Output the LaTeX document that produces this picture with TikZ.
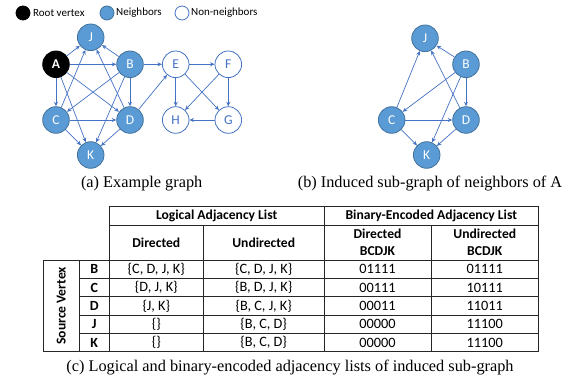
\documentclass[tikz,border=0pt]{standalone}
\usepackage{fontspec}
\setmainfont{Liberation Serif}
\newfontfamily\calib{Carlito}
\usepackage{tikz}
\usetikzlibrary{arrows.meta}
\newcommand{\rowh}{18.34}
\newcommand{\rowtop}{260}
\definecolor{nbfill}{RGB}{91,155,213}
\definecolor{nbdraw}{RGB}{65,113,156}
\definecolor{edgeblue}{RGB}{68,114,196}
\tikzset{
  vtx/.style      = {circle, minimum size=26.6pt, inner sep=0pt, line width=0.8pt, font=\calib\fontsize{13.5}{14}\selectfont},
  root/.style     = {vtx, fill=black, draw=black, text=white, font=\calib\bfseries\fontsize{13.5}{14}\selectfont},
  nbr/.style      = {vtx, fill=nbfill, draw=nbdraw, text=white},
  nonnbr/.style   = {vtx, fill=white, draw=edgeblue, text=edgeblue},
  legdot/.style   = {circle, minimum size=14pt, inner sep=0pt, line width=0.8pt},
  legtext/.style  = {anchor=west, inner sep=0pt, font=\calib\fontsize{11}{13}\selectfont},
  edge/.style     = {-{Stealth[length=4.5pt,width=4pt]}, draw=edgeblue, line width=0.7pt},
  caption/.style  = {font=\fontsize{16.3}{18}\selectfont},
  grid/.style     = {draw=black!85, line width=0.8pt},
  cell/.style     = {inner sep=0pt, font=\calib\fontsize{14.3}{16}\selectfont},
  head/.style     = {cell, align=center, font=\calib\bfseries\fontsize{13.6}{17.3}\selectfont}
}
\begin{document}
\begin{tikzpicture}[x=1pt,y=-1pt]
  \useasboundingbox (0,0) rectangle (579,379);
  % legend
  \node[legdot, fill=black, draw=black] (leg-root) at (23,13) {};
  \node[legtext] (leg-root-t) at (33,13) {Root vertex};
  \node[legdot, fill=nbfill, draw=nbdraw] (leg-nbr) at (107,13) {};
  \node[legtext] (leg-nbr-t) at (116,13) {Neighbors};
  \node[legdot, fill=white, draw=edgeblue] (leg-non) at (182,13) {};
  \node[legtext] (leg-non-t) at (191,13) {Non-neighbors};

  % (a) example graph
  \node[root]   (A) at (56,64.3) {A};
  \foreach \n/\x/\y in {J/90.7/37.3, B/130/64.3, C/56/120, D/130/120, K/90.7/155}
    \node[nbr] (\n) at (\x,\y) {\n};
  \foreach \n/\x/\y in {E/175.7/64.3, F/228.3/64.3, H/175.7/120, G/228.3/120}
    \node[nonnbr] (\n) at (\x,\y) {\n};
  \foreach \s/\t in {A/J, A/B, A/C, A/D, A/K, B/J, B/C, B/D, B/K, B/E,
                     C/J, C/D, C/K, D/J, D/K, D/E,
                     E/F, E/H, E/G, F/H, F/G, G/H}
    \draw[edge] (\s) -- (\t);
  \node[caption] (cap-a) at (141.7,183.3) {(a) Example graph};

  % (b) induced sub-graph
  \foreach \n/\x/\y in {J/425/38.3, B/466/64.3, C/391.7/120, D/466/120, K/426.7/155}
    \node[nbr] (b-\n) at (\x,\y) {\n};
  \foreach \s/\t in {B/J, B/C, B/D, B/K, C/J, C/D, C/K, D/J, D/K}
    \draw[edge] (b-\s) -- (b-\t);
  \node[caption] (cap-b) at (430,183.3) {(b) Induced sub-graph of neighbors of A};

  % (c) adjacency table: grid
  \draw[grid] (109.3,206.7) -- (538.7,206.7);
  \draw[grid] (109.3,225) -- (538.7,225);
  \draw[grid] (43.3,260) -- (538.7,260);
  \foreach \i in {1,...,4}
    \draw[grid] (79.3,\rowtop+\i*\rowh) -- (538.7,\rowtop+\i*\rowh);
  \draw[grid] (43.3,351.7) -- (538.7,351.7);
  \foreach \x in {43.3,79.3}
    \draw[grid] (\x,260) -- (\x,351.7);
  \foreach \x in {109.3,324,538.7}
    \draw[grid] (\x,206.7) -- (\x,351.7);
  \foreach \x in {203.3,431}
    \draw[grid] (\x,225) -- (\x,351.7);

  % headers
  \node[head] (h-log) at (216.7,215.8) {Logical Adjacency List};
  \node[head] (h-bin) at (431.3,215.8) {Binary-Encoded Adjacency List};
  \node[head] (h-ld) at (156.3,242.5) {Directed};
  \node[head] (h-lu) at (263.7,242.5) {Undirected};
  \node[head] (h-bd) at (377.5,242.5) {Directed\\BCDJK};
  \node[head] (h-bu) at (484.8,242.5) {Undirected\\BCDJK};
  \node[head, rotate=90] (h-src) at (61.3,305.8) {Source Vertex};

  % rows
  \foreach \v/\ld/\lu/\bd/\bu [count=\i] in {
      B/{\{C, D, J, K\}}/{\{C, D, J, K\}}/01111/01111,
      C/{\{D, J, K\}}/{\{B, D, J, K\}}/00111/10111,
      D/{\{J, K\}}/{\{B, C, J, K\}}/00011/11011,
      J/{\{\}}/{\{B, C, D\}}/00000/11100,
      K/{\{\}}/{\{B, C, D\}}/00000/11100} {
    \pgfmathsetmacro{\ry}{\rowtop+(\i-0.5)*\rowh}
    \node[cell, font=\calib\bfseries\fontsize{14}{16}\selectfont] (r-\v) at (94.3,\ry) {\v};
    \node[cell] (ld-\v) at (156.3,\ry) {\ld};
    \node[cell] (lu-\v) at (263.7,\ry) {\lu};
    \node[cell] (bd-\v) at (377.5,\ry) {\bd};
    \node[cell] (bu-\v) at (484.8,\ry) {\bu};
  }
  \node[caption] (cap-c) at (290,368) {(c) Logical and binary-encoded adjacency lists of induced sub-graph};
\end{tikzpicture}
\end{document}
